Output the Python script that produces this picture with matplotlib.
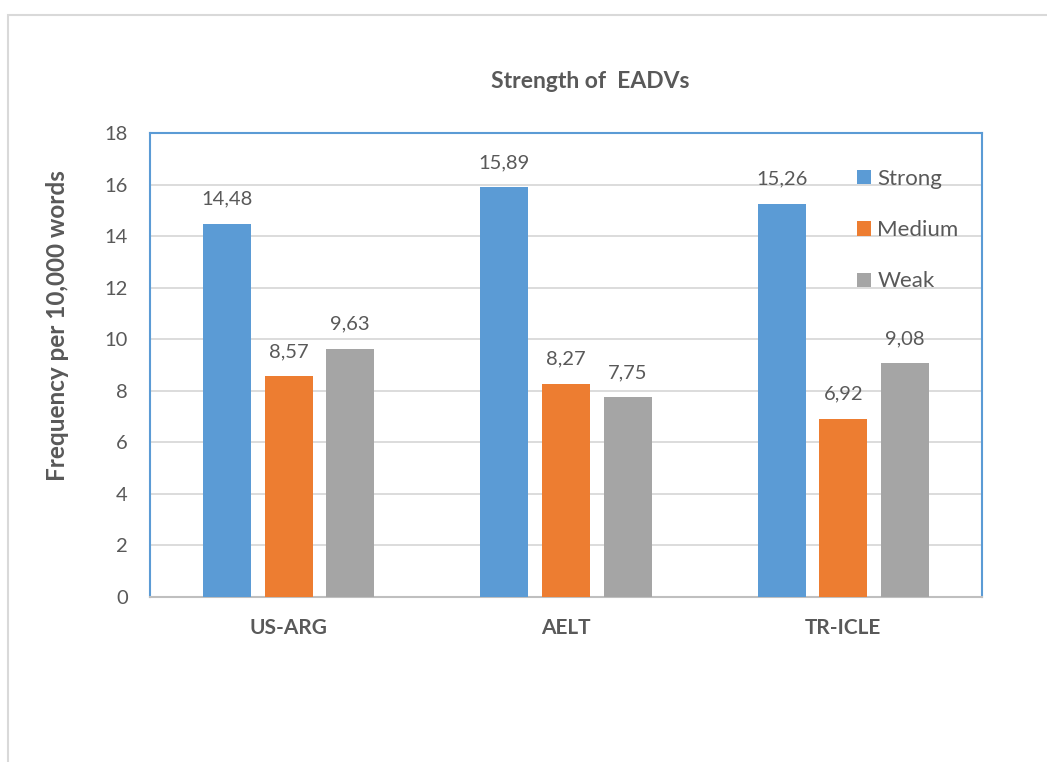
import matplotlib
matplotlib.use("Agg")
import matplotlib.pyplot as plt
from matplotlib.patches import Rectangle
import numpy as np

categories = ["US-ARG", "AELT", "TR-ICLE"]
series_names = ["Strong", "Medium", "Weak"]
strong = [14.48, 15.89, 15.26]
medium = [8.57, 8.27, 6.92]
weak = [9.63, 7.75, 9.08]
yticks = [0, 2, 4, 6, 8, 10, 12, 14, 16, 18]

colors = ["#5B9BD5", "#ED7D31", "#A5A5A5"]
text_color = "#595959"

plt.rcParams["font.family"] = ["Lato", "DejaVu Sans"]

fig = plt.figure(figsize=(10.47, 7.62), dpi=100)
ax = fig.add_axes([150 / 1047, 1 - 597 / 762, 832 / 1047, 464 / 762])

# outer chart frame
fig.patches.append(Rectangle((8 / 1047, -0.1), 1.2, 1 - 14.5 / 762 + 0.1,
                             transform=fig.transFigure, fill=False,
                             edgecolor="#D9D9D9", linewidth=1.5, zorder=0))

x = np.arange(len(categories))
width = 0.173
step = 0.222
handles = []
for i, (name, vals) in enumerate(zip(series_names, [strong, medium, weak])):
    pos = x + (i - 1) * step
    bars = ax.bar(pos, vals, width, color=colors[i], label=name, zorder=3)
    handles.append(bars)
    for p, v in zip(pos, vals):
        ax.annotate(f"{v:.2f}".replace(".", ","), (p, v), xytext=(0, 11.5),
                    textcoords="offset points", ha="center", va="bottom",
                    fontsize=14.5, color=text_color)

ax.set_xlim(-0.5, 2.5)
ax.set_ylim(0, 18)
ax.set_yticks(yticks)
ax.set_yticklabels([str(t) for t in yticks], fontsize=14.5, color=text_color)
ax.set_xticks(x)
ax.set_xticklabels(categories, fontsize=15, fontweight="bold", color=text_color)
ax.tick_params(axis="both", length=0)
ax.tick_params(axis="y", pad=16)
ax.tick_params(axis="x", pad=15)
ax.grid(axis="y", color="#D9D9D9", linewidth=1.3, zorder=0)

for side in ["left", "top", "right"]:
    ax.spines[side].set_color("#5B9BD5")
    ax.spines[side].set_linewidth(1.5)
ax.spines["bottom"].set_color("#BFBFBF")
ax.spines["bottom"].set_linewidth(1.5)

ax.set_ylabel("Frequency per 10,000 words", fontsize=17.5, fontweight="bold",
              color=text_color)
ax.yaxis.set_label_coords(-0.097, 0.586)

fig.text(590 / 1047, 1 - 82 / 762, "Strength of  EADVs", ha="center", va="center",
         fontsize=16.5, fontweight="bold", color=text_color)

leg = ax.legend(handles=handles, labels=series_names, loc="upper left",
                bbox_to_anchor=(0.826, 0.965), frameon=False, fontsize=16,
                handlelength=0.6, handleheight=0.6, handletextpad=0.3,
                labelspacing=1.4, labelcolor=text_color)

fig.savefig("out.png", dpi=100, facecolor="white")
